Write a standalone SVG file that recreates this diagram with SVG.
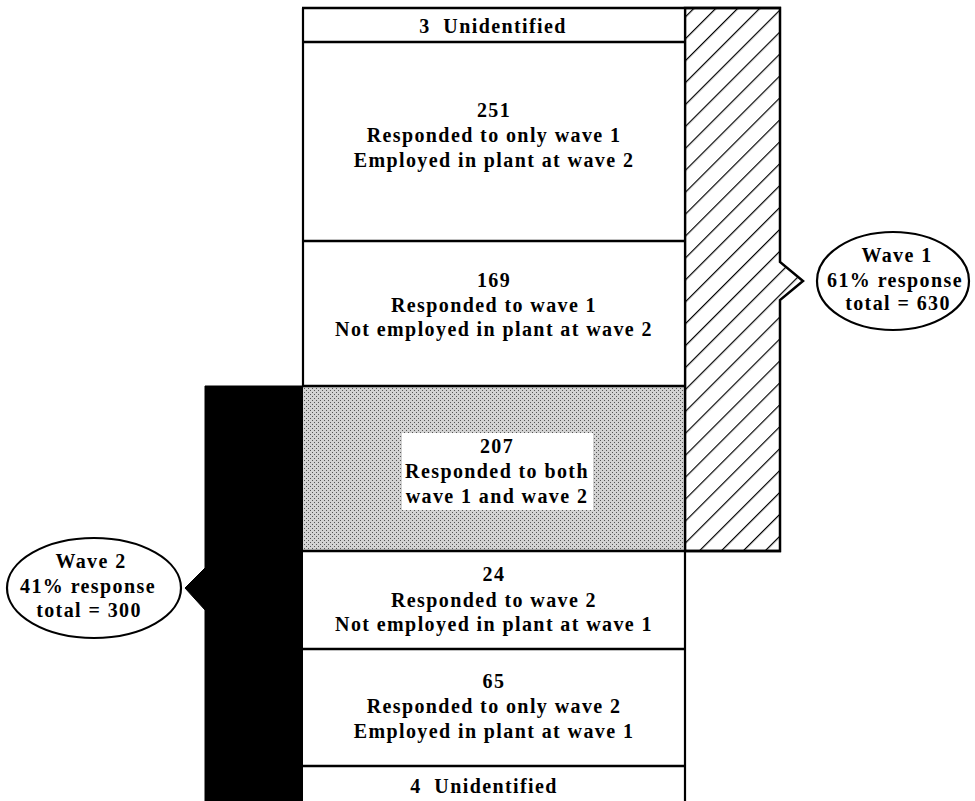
<svg xmlns="http://www.w3.org/2000/svg" width="975" height="801" viewBox="0 0 975 801">
<style>
  text { font-family: "Liberation Serif", "Times New Roman", serif; font-size: 20px; font-weight: bold; letter-spacing: 1.4px; text-anchor: middle; fill: #000; white-space: pre; }
  .rule { stroke: #000; stroke-width: 2.5; fill: none; }
  .edge { stroke: #000; stroke-width: 2.2; fill: none; }
  .bubble { fill: #fff; stroke: #000; stroke-width: 2.2; }
</style>
<defs>
  <pattern id="hatch" patternUnits="userSpaceOnUse" width="15.5" height="15.5" patternTransform="rotate(45)">
    <rect width="15.5" height="15.5" fill="#fff"/>
    <line x1="0" y1="0" x2="0" y2="15.5" stroke="#000" stroke-width="2.4"/>
  </pattern>
  <pattern id="stipple" patternUnits="userSpaceOnUse" width="4" height="4">
    <rect width="4" height="4" fill="#d2d2d2"/>
    <rect x="0" y="0" width="1" height="1" fill="#555"/>
    <rect x="2" y="2" width="1" height="1" fill="#555"/>
  </pattern>
</defs>
<rect width="975" height="801" fill="#fff"/>

<g id="wave1-bar">
  <polygon points="685,8 780,8 780,262 803,281 780,300 780,551 685,551" fill="url(#hatch)" stroke="#000" stroke-width="2.5"/>
</g>

<g id="wave2-bar">
  <polygon points="205,386 303,386 303,801 205,801 205,610 185,588 205,568" fill="#000" stroke="#000" stroke-width="1"/>
</g>

<g id="row-unidentified-3">
  <rect x="303" y="8" width="382" height="34" fill="#fff"/>
  <text x="493" y="33">3  Unidentified</text>
</g>

<g id="row-251">
  <rect x="303" y="42" width="382" height="199" fill="#fff"/>
  <text x="494" y="117">251</text>
  <text x="494" y="142">Responded to only wave 1</text>
  <text x="494" y="167">Employed in plant at wave 2</text>
</g>

<g id="row-169">
  <rect x="303" y="241" width="382" height="145" fill="#fff"/>
  <text x="494" y="287">169</text>
  <text x="494" y="312">Responded to wave 1</text>
  <text x="494" y="336">Not employed in plant at wave 2</text>
</g>

<g id="row-207">
  <rect x="303" y="386" width="382" height="165" fill="url(#stipple)"/>
  <rect x="402" y="433" width="191" height="77" fill="#fff"/>
  <text x="497" y="453">207</text>
  <text x="497" y="478">Responded to both</text>
  <text x="497" y="503">wave 1 and wave 2</text>
</g>

<g id="row-24">
  <rect x="303" y="551" width="382" height="98" fill="#fff"/>
  <text x="494" y="581">24</text>
  <text x="494" y="607">Responded to wave 2</text>
  <text x="494" y="631">Not employed in plant at wave 1</text>
</g>

<g id="row-65">
  <rect x="303" y="649" width="382" height="117" fill="#fff"/>
  <text x="494" y="688">65</text>
  <text x="494" y="713">Responded to only wave 2</text>
  <text x="494" y="738">Employed in plant at wave 1</text>
</g>

<g id="row-unidentified-4">
  <rect x="303" y="766" width="382" height="35" fill="#fff"/>
  <text x="484" y="793">4  Unidentified</text>
</g>

<g id="connectors">
  <line class="rule" x1="302" y1="8" x2="781" y2="8"/>
  <line class="edge" x1="303" y1="8" x2="303" y2="386"/>
  <line class="edge" x1="685" y1="8" x2="685" y2="801"/>
  <line class="rule" x1="303" y1="42" x2="685" y2="42"/>
  <line class="rule" x1="303" y1="241" x2="685" y2="241"/>
  <line class="rule" x1="303" y1="386" x2="685" y2="386"/>
  <line class="rule" x1="303" y1="551" x2="781" y2="551"/>
  <line class="rule" x1="303" y1="649" x2="685" y2="649"/>
  <line class="rule" x1="303" y1="766" x2="685" y2="766"/>
</g>

<g id="wave1-label">
  <ellipse class="bubble" cx="893" cy="281" rx="76" ry="49"/>
  <text x="897" y="262">Wave 1</text>
  <text x="895" y="287">61% response</text>
  <text x="898" y="310">total = 630</text>
</g>

<g id="wave2-label">
  <ellipse class="bubble" cx="94" cy="588" rx="87" ry="50"/>
  <text x="91" y="568">Wave 2</text>
  <text x="88" y="593">41% response</text>
  <text x="89" y="617">total = 300</text>
</g>
</svg>
